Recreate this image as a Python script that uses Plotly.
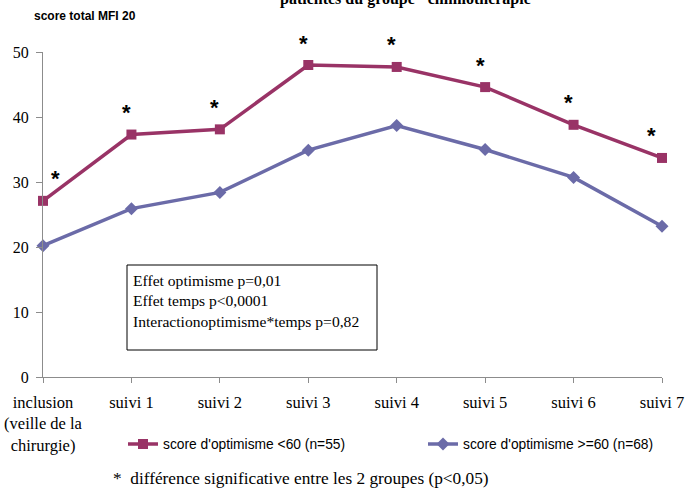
import plotly.graph_objects as go

categories = ["inclusion<br>(veille de la<br>chirurgie)", "suivi 1", "suivi 2", "suivi 3",
              "suivi 4", "suivi 5", "suivi 6", "suivi 7"]
score_low = [27.1, 37.3, 38.1, 48.0, 47.7, 44.6, 38.8, 33.7]    # score d'optimisme <60 (n=55)
score_high = [20.2, 25.9, 28.4, 34.9, 38.7, 35.0, 30.7, 23.2]   # score d'optimisme >=60 (n=68)
significant = [True] * 8
y_ticks = [0, 10, 20, 30, 40, 50]

RED = "#993366"
BLUE = "#6B6BA8"
SERIF = "Liberation Serif"
xs = list(range(len(categories)))

fig = go.Figure()
fig.add_trace(go.Scatter(
    x=xs, y=score_low, mode="lines+markers", name="score d'optimisme <60 (n=55)",
    line=dict(color=RED, width=3.5), marker=dict(symbol="square", size=10, color=RED),
    cliponaxis=False))
fig.add_trace(go.Scatter(
    x=xs, y=score_high, mode="lines+markers", name="score d'optimisme >=60 (n=68)",
    line=dict(color=BLUE, width=3.5), marker=dict(symbol="diamond", size=10, color=BLUE),
    cliponaxis=False))

annotations = []
n = len(categories)
for i, (v, s) in enumerate(zip(score_low, significant)):
    if not s:
        continue
    xshift = 12 if i == 0 else (-11 if i == n - 1 else -5)
    annotations.append(dict(x=i, y=v, xref="x", yref="y", text="<b>*</b>", showarrow=False,
                            xshift=xshift, yshift=22,
                            font=dict(family="Liberation Sans", size=22, color="black")))

annotations.append(dict(
    x=-0.018, y=1.111, xref="paper", yref="paper", xanchor="left", yanchor="middle",
    text="<b>score total MFI 20</b>", showarrow=False,
    font=dict(family="Liberation Sans", size=12, color="black")))
annotations.append(dict(
    x=0.593, y=1.163, xref="paper", yref="paper", xanchor="center", yanchor="middle",
    text="<b>patientes du groupe \"chimiothérapie\"</b>", showarrow=False,
    font=dict(family=SERIF, size=16, color="black")))
annotations.append(dict(
    x=(131 - 43) / 619, y=(377 - 270) / 325, xref="paper", yref="paper",
    xanchor="left", yanchor="top", align="left", showarrow=False,
    text="Effet optimisme p=0,01<br>Effet temps p<0,0001<br>Interactionoptimisme*temps p=0,82",
    font=dict(family=SERIF, size=15.6, color="black")))
annotations.append(dict(
    x=(111 - 43) / 619, y=(377 - 478) / 325, xref="paper", yref="paper",
    xanchor="left", yanchor="middle", showarrow=False,
    text="*  différence significative entre les 2 groupes (p<0,05)",
    font=dict(family=SERIF, size=17.3, color="black")))

shapes = [dict(type="rect", xref="paper", yref="paper",
               x0=(127 - 43) / 619, x1=(377 - 43) / 619,
               y0=(377 - 350) / 325, y1=(377 - 265) / 325,
               line=dict(color="black", width=1), fillcolor="white", layer="below")]

fig.update_layout(
    width=685, height=491,
    margin=dict(l=43, r=23, t=52, b=114, autoexpand=False),
    paper_bgcolor="white", plot_bgcolor="white",
    showlegend=True,
    legend=dict(orientation="h", x=(123 - 43) / 619, y=(377 - 444) / 325,
                xanchor="left", yanchor="middle", entrywidth=255,
                font=dict(family="Liberation Sans Narrow, Liberation Sans", size=13.8, color="black"),
                itemwidth=30, bgcolor="rgba(0,0,0,0)"),
    annotations=annotations, shapes=shapes,
    xaxis=dict(range=[0, n - 1], tickvals=xs, ticktext=categories, showgrid=False,
               zeroline=False, showline=True, linecolor="#8c8c8c", linewidth=1,
               ticks="outside", ticklen=5, tickcolor="#8c8c8c", automargin=False,
               ticklabelstandoff=5,
               tickfont=dict(family=SERIF, size=16.5, color="black")),
    yaxis=dict(range=[0, 50], tickvals=y_ticks, showgrid=False, zeroline=False,
               showline=True, linecolor="#8c8c8c", linewidth=1, automargin=False,
               ticks="outside", ticklen=6, tickcolor="#8c8c8c", ticklabelstandoff=4,
               tickfont=dict(family=SERIF, size=16, color="black")),
)

fig.write_html("out.html", config={"displayModeBar": False},
               post_script="document.body.style.margin='0';")
